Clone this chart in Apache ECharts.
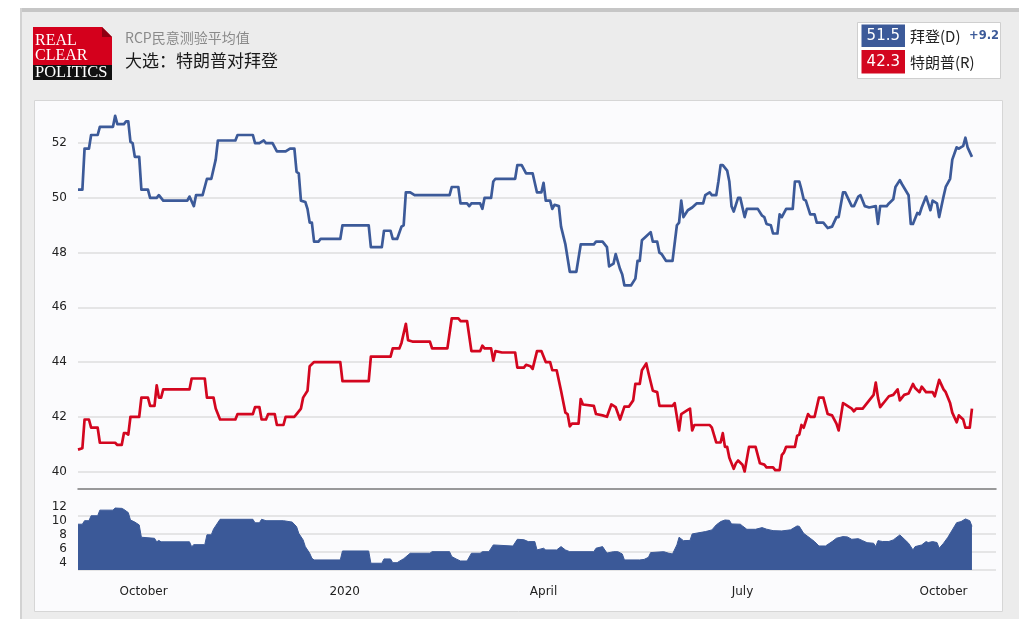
<!DOCTYPE html>
<html>
<head>
<meta charset="utf-8">
<script src="https://cdn.jsdelivr.net/npm/echarts@6/dist/echarts.min.js"></script>
<style>
  html, body { margin: 0; padding: 0; background: #ffffff; }
  #chart { width: 1019px; height: 619px; }
</style>
</head>
<body>
<div id="chart"></div>
<script>
// RCP polling average, general election: Trump vs Biden (daily readings)
const biden = [
  ['2019-09-01',50.3],['2019-09-03',50.3],['2019-09-04',51.8],['2019-09-06',51.8],['2019-09-07',52.3],['2019-09-10',52.3],
  ['2019-09-11',52.6],['2019-09-17',52.6],['2019-09-18',53.0],['2019-09-19',52.7],['2019-09-22',52.7],['2019-09-23',52.8],
  ['2019-09-24',52.8],['2019-09-25',52.05],['2019-09-26',52.0],['2019-09-27',51.5],['2019-09-29',51.5],['2019-09-30',50.3],
  ['2019-10-03',50.3],['2019-10-04',50.0],['2019-10-07',50.0],['2019-10-08',50.1],['2019-10-10',49.9],['2019-10-21',49.9],
  ['2019-10-22',50.05],['2019-10-24',49.7],['2019-10-25',50.1],['2019-10-28',50.1],['2019-10-30',50.7],['2019-11-01',50.7],
  ['2019-11-03',51.4],['2019-11-04',52.1],['2019-11-12',52.1],['2019-11-13',52.3],['2019-11-20',52.3],['2019-11-21',52.0],
  ['2019-11-23',52.0],['2019-11-25',52.1],['2019-11-26',52.0],['2019-11-29',52.0],['2019-12-01',51.7],['2019-12-05',51.7],
  ['2019-12-07',51.8],['2019-12-09',51.8],['2019-12-10',50.95],['2019-12-11',50.9],['2019-12-12',49.9],['2019-12-14',49.85],
  ['2019-12-15',49.6],['2019-12-16',49.1],['2019-12-17',49.1],['2019-12-18',48.4],['2019-12-20',48.4],['2019-12-21',48.5],
  ['2019-12-30',48.5],['2019-12-31',49.0],['2020-01-12',49.0],['2020-01-13',48.2],['2020-01-18',48.2],['2020-01-19',48.8],
  ['2020-01-22',48.8],['2020-01-23',48.5],['2020-01-25',48.5],['2020-01-27',48.95],['2020-01-28',49.0],['2020-01-29',50.2],
  ['2020-01-31',50.2],['2020-02-02',50.1],['2020-02-18',50.1],['2020-02-19',50.4],['2020-02-22',50.4],['2020-02-23',49.8],
  ['2020-02-26',49.8],['2020-02-27',49.7],['2020-02-28',49.8],['2020-03-03',49.8],['2020-03-04',49.6],['2020-03-05',50.0],
  ['2020-03-08',50.0],['2020-03-09',50.6],['2020-03-10',50.7],['2020-03-19',50.7],['2020-03-20',51.2],['2020-03-22',51.2],
  ['2020-03-24',50.9],['2020-03-27',50.9],['2020-03-29',50.2],['2020-03-31',50.2],['2020-04-01',50.55],['2020-04-02',49.9],
  ['2020-04-04',49.9],['2020-04-05',49.6],['2020-04-06',49.75],['2020-04-08',49.7],['2020-04-09',48.95],['2020-04-11',48.3],
  ['2020-04-13',47.3],['2020-04-16',47.3],['2020-04-18',48.3],['2020-04-24',48.3],['2020-04-25',48.4],['2020-04-28',48.4],
  ['2020-04-30',48.2],['2020-05-01',47.5],['2020-05-03',47.6],['2020-05-04',47.95],['2020-05-06',47.4],['2020-05-07',47.2],
  ['2020-05-08',46.8],['2020-05-11',46.8],['2020-05-13',47.05],['2020-05-14',47.7],['2020-05-15',47.7],['2020-05-16',48.45],
  ['2020-05-18',48.6],['2020-05-20',48.75],['2020-05-21',48.4],['2020-05-23',48.4],['2020-05-24',48.0],['2020-05-25',47.95],
  ['2020-05-27',47.7],['2020-05-30',47.7],['2020-06-01',49.0],['2020-06-02',49.1],['2020-06-03',49.9],['2020-06-04',49.3],
  ['2020-06-06',49.55],['2020-06-08',49.65],['2020-06-10',49.8],['2020-06-13',49.8],['2020-06-14',50.1],['2020-06-16',50.2],
  ['2020-06-17',50.1],['2020-06-19',50.1],['2020-06-20',50.6],['2020-06-21',51.2],['2020-06-22',51.2],['2020-06-24',51.0],
  ['2020-06-25',50.6],['2020-06-26',49.7],['2020-06-27',49.5],['2020-06-29',50.0],['2020-06-30',50.0],['2020-07-02',49.3],
  ['2020-07-03',49.6],['2020-07-08',49.6],['2020-07-10',49.35],['2020-07-11',49.3],['2020-07-12',49.05],['2020-07-14',49.0],
  ['2020-07-15',48.7],['2020-07-17',48.7],['2020-07-18',49.4],['2020-07-19',49.3],['2020-07-21',49.6],['2020-07-24',49.6],
  ['2020-07-25',50.6],['2020-07-27',50.6],['2020-07-28',50.3],['2020-07-29',49.95],['2020-07-30',49.9],['2020-08-01',49.4],
  ['2020-08-03',49.4],['2020-08-04',49.1],['2020-08-07',49.1],['2020-08-09',48.9],['2020-08-11',48.95],['2020-08-13',49.3],
  ['2020-08-14',49.3],['2020-08-16',50.2],['2020-08-17',50.2],['2020-08-20',49.7],['2020-08-21',49.7],['2020-08-23',50.05],
  ['2020-08-24',50.1],['2020-08-26',49.7],['2020-08-28',49.65],['2020-08-31',49.7],['2020-09-01',49.05],['2020-09-02',49.7],
  ['2020-09-05',49.7],['2020-09-06',49.8],['2020-09-08',49.95],['2020-09-09',50.4],['2020-09-11',50.65],['2020-09-12',50.5],
  ['2020-09-15',50.1],['2020-09-16',49.05],['2020-09-17',49.05],['2020-09-19',49.45],['2020-09-20',49.4],['2020-09-21',49.65],
  ['2020-09-23',50.05],['2020-09-25',49.55],['2020-09-26',49.9],['2020-09-28',49.8],['2020-09-29',49.3],['2020-10-01',50.05],
  ['2020-10-02',50.4],['2020-10-04',50.7],['2020-10-05',51.4],['2020-10-07',51.85],['2020-10-08',51.8],['2020-10-10',51.9],
  ['2020-10-11',52.2],['2020-10-12',51.85],['2020-10-14',51.5]
];

const trump = [
  ['2019-09-01',40.8],['2019-09-03',40.85],['2019-09-04',41.9],['2019-09-06',41.9],['2019-09-07',41.6],['2019-09-10',41.6],
  ['2019-09-11',41.05],['2019-09-18',41.05],['2019-09-19',40.97],['2019-09-21',40.97],['2019-09-22',41.4],['2019-09-23',41.4],
  ['2019-09-24',41.35],['2019-09-25',42.0],['2019-09-29',42.0],['2019-09-30',42.7],['2019-10-03',42.7],['2019-10-04',42.4],
  ['2019-10-06',42.4],['2019-10-07',43.15],['2019-10-08',42.7],['2019-10-09',42.7],['2019-10-10',43.0],['2019-10-22',43.0],
  ['2019-10-23',43.4],['2019-10-29',43.4],['2019-10-30',42.7],['2019-11-02',42.7],['2019-11-03',42.3],['2019-11-05',41.9],
  ['2019-11-12',41.9],['2019-11-13',42.1],['2019-11-20',42.1],['2019-11-21',42.35],['2019-11-23',42.35],['2019-11-24',41.9],
  ['2019-11-26',41.9],['2019-11-27',42.1],['2019-11-30',42.1],['2019-12-01',41.7],['2019-12-04',41.7],['2019-12-05',42.0],
  ['2019-12-09',42.0],['2019-12-10',42.1],['2019-12-12',42.3],['2019-12-13',42.7],['2019-12-15',42.95],['2019-12-16',43.85],
  ['2019-12-18',44.0],['2019-12-30',44.0],['2019-12-31',43.3],['2020-01-12',43.3],['2020-01-13',44.2],['2020-01-22',44.2],
  ['2020-01-23',44.5],['2020-01-26',44.5],['2020-01-27',44.7],['2020-01-29',45.4],['2020-01-30',44.8],['2020-02-01',44.75],
  ['2020-02-09',44.75],['2020-02-10',44.5],['2020-02-17',44.5],['2020-02-19',45.6],['2020-02-22',45.6],['2020-02-23',45.5],
  ['2020-02-26',45.5],['2020-02-28',44.4],['2020-03-03',44.4],['2020-03-04',44.6],['2020-03-05',44.5],['2020-03-08',44.5],
  ['2020-03-09',44.05],['2020-03-10',44.4],['2020-03-13',44.35],['2020-03-19',44.35],['2020-03-20',43.8],['2020-03-23',43.8],
  ['2020-03-24',43.9],['2020-03-26',43.85],['2020-03-27',43.75],['2020-03-29',44.4],['2020-03-31',44.4],['2020-04-02',44.0],
  ['2020-04-04',44.0],['2020-04-05',43.7],['2020-04-07',43.7],['2020-04-09',42.95],['2020-04-11',42.15],['2020-04-12',42.1],
  ['2020-04-13',41.65],['2020-04-14',41.75],['2020-04-17',41.75],['2020-04-18',42.65],['2020-04-19',42.45],['2020-04-24',42.4],
  ['2020-04-25',42.1],['2020-04-28',42.05],['2020-04-30',42.0],['2020-05-02',42.45],['2020-05-04',42.35],['2020-05-06',41.9],
  ['2020-05-08',42.37],['2020-05-10',42.37],['2020-05-12',42.6],['2020-05-13',43.2],['2020-05-15',43.2],['2020-05-16',43.7],
  ['2020-05-18',43.95],['2020-05-19',43.6],['2020-05-21',42.95],['2020-05-23',42.9],['2020-05-24',42.4],['2020-05-30',42.4],
  ['2020-05-31',42.5],['2020-06-02',41.5],['2020-06-03',42.1],['2020-06-06',42.25],['2020-06-07',42.3],['2020-06-08',41.5],
  ['2020-06-09',41.7],['2020-06-16',41.7],['2020-06-17',41.6],['2020-06-19',41.06],['2020-06-21',41.06],['2020-06-22',41.4],
  ['2020-06-23',40.9],['2020-06-24',40.9],['2020-06-25',40.5],['2020-06-27',40.1],['2020-06-28',40.3],['2020-06-29',40.4],
  ['2020-07-01',40.25],['2020-07-02',40.0],['2020-07-04',40.9],['2020-07-07',40.9],['2020-07-09',40.3],['2020-07-11',40.25],
  ['2020-07-12',40.15],['2020-07-15',40.15],['2020-07-16',40.05],['2020-07-18',40.05],['2020-07-19',40.6],['2020-07-20',40.7],
  ['2020-07-21',40.9],['2020-07-25',40.9],['2020-07-26',41.3],['2020-07-27',41.35],['2020-07-28',41.7],['2020-07-29',41.6],
  ['2020-07-31',42.1],['2020-08-01',42.0],['2020-08-03',42.0],['2020-08-05',42.7],['2020-08-07',42.7],['2020-08-09',42.1],
  ['2020-08-11',42.05],['2020-08-13',41.75],['2020-08-14',41.5],['2020-08-16',42.5],['2020-08-17',42.45],['2020-08-20',42.3],
  ['2020-08-21',42.2],['2020-08-22',42.3],['2020-08-25',42.3],['2020-08-27',42.5],['2020-08-29',42.7],['2020-08-30',42.8],
  ['2020-08-31',43.25],['2020-09-01',42.7],['2020-09-02',42.35],['2020-09-03',42.45],['2020-09-04',42.55],['2020-09-06',42.75],
  ['2020-09-08',42.8],['2020-09-10',43.0],['2020-09-11',42.6],['2020-09-13',42.8],['2020-09-15',42.85],['2020-09-17',43.2],
  ['2020-09-18',43.05],['2020-09-20',42.9],['2020-09-21',43.1],['2020-09-23',42.9],['2020-09-26',42.9],['2020-09-27',42.75],
  ['2020-09-29',43.35],['2020-10-01',43.0],['2020-10-02',42.9],['2020-10-04',42.5],['2020-10-05',42.15],['2020-10-07',41.8],
  ['2020-10-08',42.05],['2020-10-10',41.9],['2020-10-11',41.6],['2020-10-13',41.6],['2020-10-14',42.3]
];

// Biden lead in points
const spread = [
  ['2019-09-01',9.5],['2019-09-03',9.5],['2019-09-04',10.0],['2019-09-06',10.0],['2019-09-07',10.7],['2019-09-10',10.7],
  ['2019-09-11',11.5],['2019-09-17',11.5],['2019-09-18',11.8],['2019-09-21',11.75],['2019-09-22',11.6],['2019-09-24',11.15],
  ['2019-09-25',10.1],['2019-09-27',9.8],['2019-09-29',9.4],['2019-09-30',7.65],['2019-10-06',7.5],['2019-10-07',7.0],
  ['2019-10-08',7.2],['2019-10-09',7.0],['2019-10-22',7.0],['2019-10-23',6.3],['2019-10-24',6.6],['2019-10-29',6.6],
  ['2019-10-30',8.0],['2019-11-01',8.0],['2019-11-02',8.8],['2019-11-05',10.2],['2019-11-20',10.2],['2019-11-21',9.7],
  ['2019-11-23',9.7],['2019-11-24',10.2],['2019-11-26',10.0],['2019-12-04',10.0],['2019-12-08',9.8],['2019-12-10',9.16],
  ['2019-12-11',8.2],['2019-12-13',7.27],['2019-12-14',6.32],['2019-12-16',5.38],['2019-12-17',4.67],['2019-12-18',4.43],
  ['2019-12-30',4.43],['2019-12-31',5.7],['2020-01-12',5.7],['2020-01-13',3.96],['2020-01-18',3.96],['2020-01-19',4.57],
  ['2020-01-22',4.57],['2020-01-23',4.04],['2020-01-25',4.04],['2020-01-27',4.43],['2020-01-28',4.6],['2020-01-31',5.38],
  ['2020-02-09',5.38],['2020-02-10',5.6],['2020-02-18',5.6],['2020-02-19',4.9],['2020-02-21',4.57],['2020-02-23',4.28],
  ['2020-02-26',4.28],['2020-02-28',5.38],['2020-03-03',5.38],['2020-03-04',5.6],['2020-03-07',5.6],['2020-03-09',6.56],
  ['2020-03-18',6.4],['2020-03-20',7.36],['2020-03-23',7.3],['2020-03-25',7.03],['2020-03-28',7.03],['2020-03-29',5.85],
  ['2020-04-01',6.09],['2020-04-02',5.85],['2020-04-07',5.85],['2020-04-09',6.32],['2020-04-11',5.85],['2020-04-13',5.6],
  ['2020-04-24',5.6],['2020-04-25',6.09],['2020-04-28',6.32],['2020-04-30',5.4],['2020-05-03',5.6],['2020-05-05',5.6],
  ['2020-05-07',5.28],['2020-05-08',4.43],['2020-05-15',4.43],['2020-05-17',4.5],['2020-05-19',4.8],['2020-05-20',5.47],
  ['2020-05-26',5.6],['2020-05-28',5.4],['2020-05-30',5.28],['2020-06-01',6.56],['2020-06-02',7.65],['2020-06-04',7.17],
  ['2020-06-07',7.2],['2020-06-08',8.12],['2020-06-14',8.45],['2020-06-17',8.69],['2020-06-19',9.4],['2020-06-21',9.87],
  ['2020-06-23',10.1],['2020-06-25',10.05],['2020-06-26',9.54],['2020-06-30',9.5],['2020-07-01',9.26],['2020-07-03',8.78],
  ['2020-07-07',8.78],['2020-07-10',9.02],['2020-07-12',8.8],['2020-07-15',8.59],['2020-07-19',8.55],['2020-07-23',8.7],
  ['2020-07-26',9.26],['2020-07-27',9.2],['2020-07-29',8.2],['2020-08-01',7.51],['2020-08-03',7.03],['2020-08-05',6.41],
  ['2020-08-08',6.41],['2020-08-11',7.03],['2020-08-13',7.51],['2020-08-16',7.74],['2020-08-18',7.7],['2020-08-20',7.36],
  ['2020-08-23',7.45],['2020-08-25',7.17],['2020-08-27',6.88],['2020-08-30',6.8],['2020-08-31',6.32],['2020-09-01',7.17],
  ['2020-09-03',7.05],['2020-09-06',7.05],['2020-09-08',7.27],['2020-09-11',7.98],['2020-09-13',7.4],['2020-09-15',6.8],
  ['2020-09-17',5.85],['2020-09-18',6.32],['2020-09-21',6.56],['2020-09-23',7.03],['2020-09-24',6.9],['2020-09-26',7.03],
  ['2020-09-28',6.9],['2020-09-29',6.09],['2020-10-01',6.8],['2020-10-03',7.65],['2020-10-05',8.69],['2020-10-07',9.72],
  ['2020-10-09',9.87],['2020-10-11',10.25],['2020-10-13',10.0],['2020-10-14',9.2]
];

const monthTicks = ['2019-10-01', '2020-01-01', '2020-04-01', '2020-07-01', '2020-10-01'];
const monthLabels = ['October', '2020', 'April', 'July', 'October'];
const pollTicks = [40, 42, 44, 46, 48, 50, 52];
const spreadTicks = [4, 6, 8, 10, 12];
const dateRange = ['2019-09-01', '2020-10-25'];

const candidateNames = { dem: '拜登(D)', rep: '特朗普(R)' };
const titleTop = 'RCP民意测验平均值';
const titleMain = '大选：特朗普对拜登';

const BLUE = '#3c5a99';
const RED = '#d3061f';
const LABEL_FONT = '"DejaVu Sans", Verdana, sans-serif';
const CJK_FONT = '"Noto Sans CJK SC", "DejaVu Sans", sans-serif';

// dates are kept as local-midnight timestamps on a numeric axis
function toTime(s) {
  const [y, m, d] = s.split('-').map(Number);
  return new Date(y, m - 1, d).getTime();
}
const asPoints = rows => rows.map(([d, v]) => [toTime(d), v]);
const tickTimes = monthTicks.map(toTime);
const xMin = toTime(dateRange[0]);
const xMax = toTime(dateRange[1]);

const lastBiden = biden[biden.length - 1][1];
const lastTrump = trump[trump.length - 1][1];
const lastSpread = spread[spread.length - 1][1];

const chart = echarts.init(document.getElementById('chart'), null, { renderer: 'canvas' });

const dateAxisBase = { type: 'value', min: xMin, max: xMax, splitLine: { show: false } };

chart.setOption({
  animation: false,
  backgroundColor: '#ffffff',
  grid: [
    // candidate lines
    { left: 78, right: 23, top: 88.5, height: 437.7 },
    // spread area with its labels
    { left: 78, right: 23, top: 489, height: 81 },
    // spread panel guide lines
    { left: 78, right: 23, top: 498, height: 72 }
  ],
  xAxis: [
    Object.assign({ gridIndex: 0, show: false }, dateAxisBase),
    Object.assign({
      gridIndex: 1, position: 'bottom',
      axisLine: { show: false }, axisTick: { show: false },
      axisLabel: {
        customValues: tickTimes,
        formatter: v => { const i = tickTimes.indexOf(+v); return i >= 0 ? monthLabels[i] : ''; },
        color: '#222', fontSize: 12, fontFamily: LABEL_FONT, margin: 16,
        showMinLabel: true, showMaxLabel: true, hideOverlap: false
      }
    }, dateAxisBase),
    Object.assign({
      gridIndex: 1, position: 'top',
      axisLine: { show: true, lineStyle: { color: '#7a7a7a', width: 1.5 } },
      axisTick: { show: false }, axisLabel: { show: false }
    }, dateAxisBase),
    Object.assign({ gridIndex: 2, show: false }, dateAxisBase)
  ],
  yAxis: [
    {
      gridIndex: 0, type: 'value', min: 38, max: 54, interval: 2,
      axisLine: { show: false }, axisTick: { show: false },
      axisLabel: {
        formatter: v => pollTicks.includes(v) ? String(v) : '',
        color: '#222', fontSize: 12, fontFamily: LABEL_FONT, margin: 11
      },
      splitLine: { show: true, showMinLine: false, showMaxLine: false, lineStyle: { color: '#dedede', width: 1.5 } }
    },
    {
      gridIndex: 1, type: 'value', min: 3, max: 14.5,
      axisLine: { show: false }, axisTick: { show: false },
      axisLabel: { customValues: spreadTicks, color: '#222', fontSize: 12, fontFamily: LABEL_FONT, margin: 11 },
      splitLine: { show: false }
    },
    {
      gridIndex: 2, type: 'value', min: 0, max: 4, interval: 1,
      axisLine: { show: false }, axisTick: { show: false }, axisLabel: { show: false },
      splitLine: { show: true, showMaxLine: false, lineStyle: { color: '#dedede', width: 1.5 } }
    }
  ],
  series: [
    {
      name: candidateNames.dem, type: 'line', xAxisIndex: 0, yAxisIndex: 0,
      data: asPoints(biden), showSymbol: false, symbol: 'none', z: 4,
      lineStyle: { color: BLUE, width: 2.7, join: 'round' }, itemStyle: { color: BLUE }
    },
    {
      name: candidateNames.rep, type: 'line', xAxisIndex: 0, yAxisIndex: 0,
      data: asPoints(trump), showSymbol: false, symbol: 'none', z: 4,
      lineStyle: { color: RED, width: 2.7, join: 'round' }, itemStyle: { color: RED }
    },
    {
      name: 'spread', type: 'line', xAxisIndex: 1, yAxisIndex: 1,
      data: asPoints(spread), showSymbol: false, symbol: 'none', z: 3,
      lineStyle: { color: '#3b5998', width: 1 },
      areaStyle: { color: '#3b5998', opacity: 1, origin: 'start' }
    }
  ],
  graphic: [
    // page frame and panels
    { type: 'rect', z: -20, shape: { x: 20, y: 10, width: 999, height: 609 }, style: { fill: '#ececec' } },
    { type: 'rect', z: -19, shape: { x: 20, y: 8, width: 999, height: 4 }, style: { fill: '#c6c6c6' } },
    { type: 'rect', z: -19, shape: { x: 20, y: 8, width: 2, height: 611 }, style: { fill: '#d2d2d2' } },
    { type: 'rect', z: -18, shape: { x: 34.5, y: 100.5, width: 968, height: 511 },
      style: { fill: '#fbfbfd', stroke: '#d6d6d6', lineWidth: 1 } },

    // logo
    { type: 'polygon', z: 10, shape: { points: [[33, 27], [102, 27], [112, 37], [112, 66], [33, 66]] }, style: { fill: '#d4001c' } },
    { type: 'polygon', z: 11, shape: { points: [[102, 27], [102, 37], [112, 37]] }, style: { fill: '#8e0012' } },
    { type: 'rect', z: 10, shape: { x: 33, y: 65, width: 79, height: 15 }, style: { fill: '#111111' } },
    { type: 'text', z: 12, x: 35, y: 41, style: { text: 'REAL', fill: '#ffffff', font: '16px "Liberation Serif", "DejaVu Serif", serif', textVerticalAlign: 'middle' } },
    { type: 'text', z: 12, x: 35, y: 56, style: { text: 'CLEAR', fill: '#ffffff', font: '16px "Liberation Serif", "DejaVu Serif", serif', textVerticalAlign: 'middle' } },
    { type: 'text', z: 12, x: 35, y: 73, style: { text: 'POLITICS', fill: '#ffffff', font: '16.5px "Liberation Serif", "DejaVu Serif", serif', textVerticalAlign: 'middle' } },

    // titles
    { type: 'text', z: 12, x: 125, y: 38, style: { text: titleTop, fill: '#8a8a8a', font: '14px ' + CJK_FONT, textVerticalAlign: 'middle' } },
    { type: 'text', z: 12, x: 125, y: 61, style: { text: titleMain, fill: '#1a1a1a', font: '17px ' + CJK_FONT, textVerticalAlign: 'middle' } },

    // latest values box
    { type: 'rect', z: 10, shape: { x: 857.5, y: 22.5, width: 143, height: 56 }, style: { fill: '#ffffff', stroke: '#cfcfcf', lineWidth: 1 } },
    { type: 'rect', z: 11, shape: { x: 861.5, y: 24.5, width: 43.5, height: 22.5 }, style: { fill: BLUE } },
    { type: 'rect', z: 11, shape: { x: 861.5, y: 50, width: 43.5, height: 23.5 }, style: { fill: RED } },
    { type: 'text', z: 12, x: 883.3, y: 36, style: { text: lastBiden.toFixed(1), fill: '#ffffff', font: '15px ' + LABEL_FONT, textAlign: 'center', textVerticalAlign: 'middle' } },
    { type: 'text', z: 12, x: 883.3, y: 62, style: { text: lastTrump.toFixed(1), fill: '#ffffff', font: '15px ' + LABEL_FONT, textAlign: 'center', textVerticalAlign: 'middle' } },
    { type: 'text', z: 12, x: 910, y: 36, style: { text: candidateNames.dem, fill: '#222222', font: '15px ' + CJK_FONT, textVerticalAlign: 'middle' } },
    { type: 'text', z: 12, x: 910, y: 62, style: { text: candidateNames.rep, fill: '#222222', font: '15px ' + CJK_FONT, textVerticalAlign: 'middle' } },
    { type: 'text', z: 12, x: 969, y: 36.5, style: { text: '+' + lastSpread.toFixed(1), fill: BLUE, font: 'bold 11.5px ' + LABEL_FONT, textVerticalAlign: 'middle' } }
  ]
});
</script>
</body>
</html>
